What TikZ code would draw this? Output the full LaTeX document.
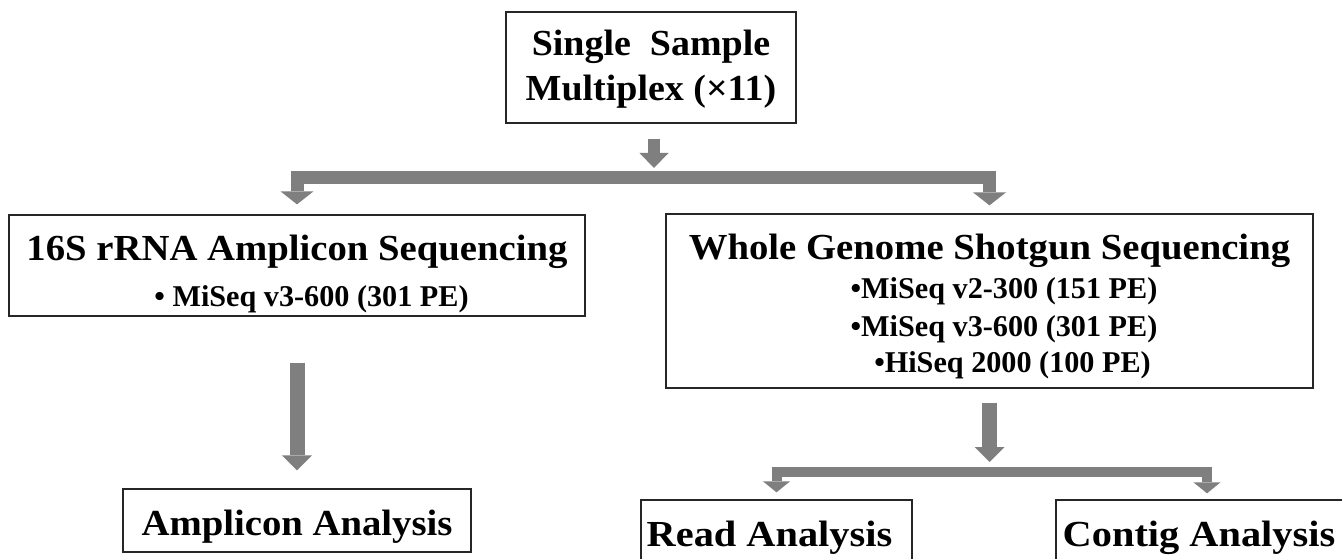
\documentclass[tikz,border=0pt]{standalone}
\usepackage{fontspec}
\setmainfont{Liberation Serif}
\newfontfamily\fA[FakeStretch=1.035]{Liberation Serif}
\newfontfamily\fB[FakeStretch=1.055]{Liberation Serif}
\newfontfamily\fC[FakeStretch=1.10]{Liberation Serif}
\usetikzlibrary{arrows.meta}
\definecolor{agray}{HTML}{7F7F7F}
\definecolor{edgec}{HTML}{262626}
\begin{document}
\begin{tikzpicture}[x=1pt,y=-1pt,
  box/.style={draw=edgec, line width=1.3pt, inner sep=0pt, align=center},
  arrA/.style={agray, line width=12pt, -{Triangle[width=29pt,length=15pt,line width=0pt]}},
  arrB/.style={agray, line width=13pt, -{Triangle[width=33pt,length=13pt,line width=0pt]}},
  arrC/.style={agray, line width=15pt, -{Triangle[width=30pt,length=15pt,line width=0pt]}},
  arrD/.style={agray, line width=10pt, -{Triangle[width=27pt,length=11pt,line width=0pt]}}]
\useasboundingbox (0,0) rectangle (1342,559);
\clip (0,0) rectangle (1342,559);
\fill[white] (0,0) rectangle (1342,559);

\node[box, minimum width=290pt, minimum height=111pt,
  font={\fA\bfseries\fontsize{36.7}{45}\selectfont}] (top) at (651,67.5)
  {\rule{0pt}{28pt}Single~~Sample\\Multiplex (×11)};

\node[box, minimum width=576pt, minimum height=101pt,
  font={\bfseries\fontsize{30.2}{46}\selectfont}] (lbox) at (297,265.5)
  {{\fB\bfseries\fontsize{36.7}{46}\selectfont\rule{0pt}{41.6pt}16S rRNA Amplicon Sequencing}\\
   \hspace*{29pt}• MiSeq v3-600 (301 PE)};

\node[box, minimum width=647pt, minimum height=174pt,
  font={\bfseries\fontsize{30.2}{38}\selectfont}] (wgs) at (989.5,301)
  {{\fB\bfseries\fontsize{36.7}{38}\selectfont\rule{0pt}{35.6pt}Whole Genome Shotgun Sequencing}\\[1pt]
   \hspace*{29pt}•MiSeq v2-300 (151 PE)\\
   \hspace*{29pt}•MiSeq v3-600 (301 PE)\\[-2pt]
   \hspace*{46pt}•HiSeq 2000 (100 PE)};

\node[box, minimum width=348pt, minimum height=63pt, text height=29pt, text depth=0pt,
  font={\fB\bfseries\fontsize{36.7}{44}\selectfont}] (amp) at (297,520.5) {Amplicon Analysis};

\node[box, minimum width=271pt, minimum height=92pt, text height=10pt, text depth=10pt,
  font={\fC\bfseries\fontsize{36.7}{44}\selectfont}] (read) at (776.5,546) {Read Analysis\hspace*{14pt}};

\node[box, minimum width=302pt, minimum height=92pt, text height=10pt, text depth=10pt,
  font={\fC\bfseries\fontsize{36.7}{44}\selectfont}] (contig) at (1207,546) {Contig Analysis\hspace*{16pt}};

\coordinate (j1) at (654,177.5);
\coordinate (j2) at (989.5,471.5);

\draw[arrA, shorten <=15pt, shorten >=9.5pt] (top.south -| j1) -- (j1);
\draw[arrB, shorten >=10pt] (j1) -| (lbox.north);
\draw[arrB, shorten >=8pt] (j1) -| (wgs.north);
\draw[arrC, shorten <=46pt, shorten >=18pt] (lbox.south) -- (amp.north);
\draw[arrC, shorten <=14pt, shorten >=9.5pt] (wgs.south) -- (j2);
\draw[arrD, shorten >=7pt] (j2) -| (read.north);
\draw[arrD, shorten >=6pt] (j2) -| (contig.north);
\end{tikzpicture}
\end{document}
